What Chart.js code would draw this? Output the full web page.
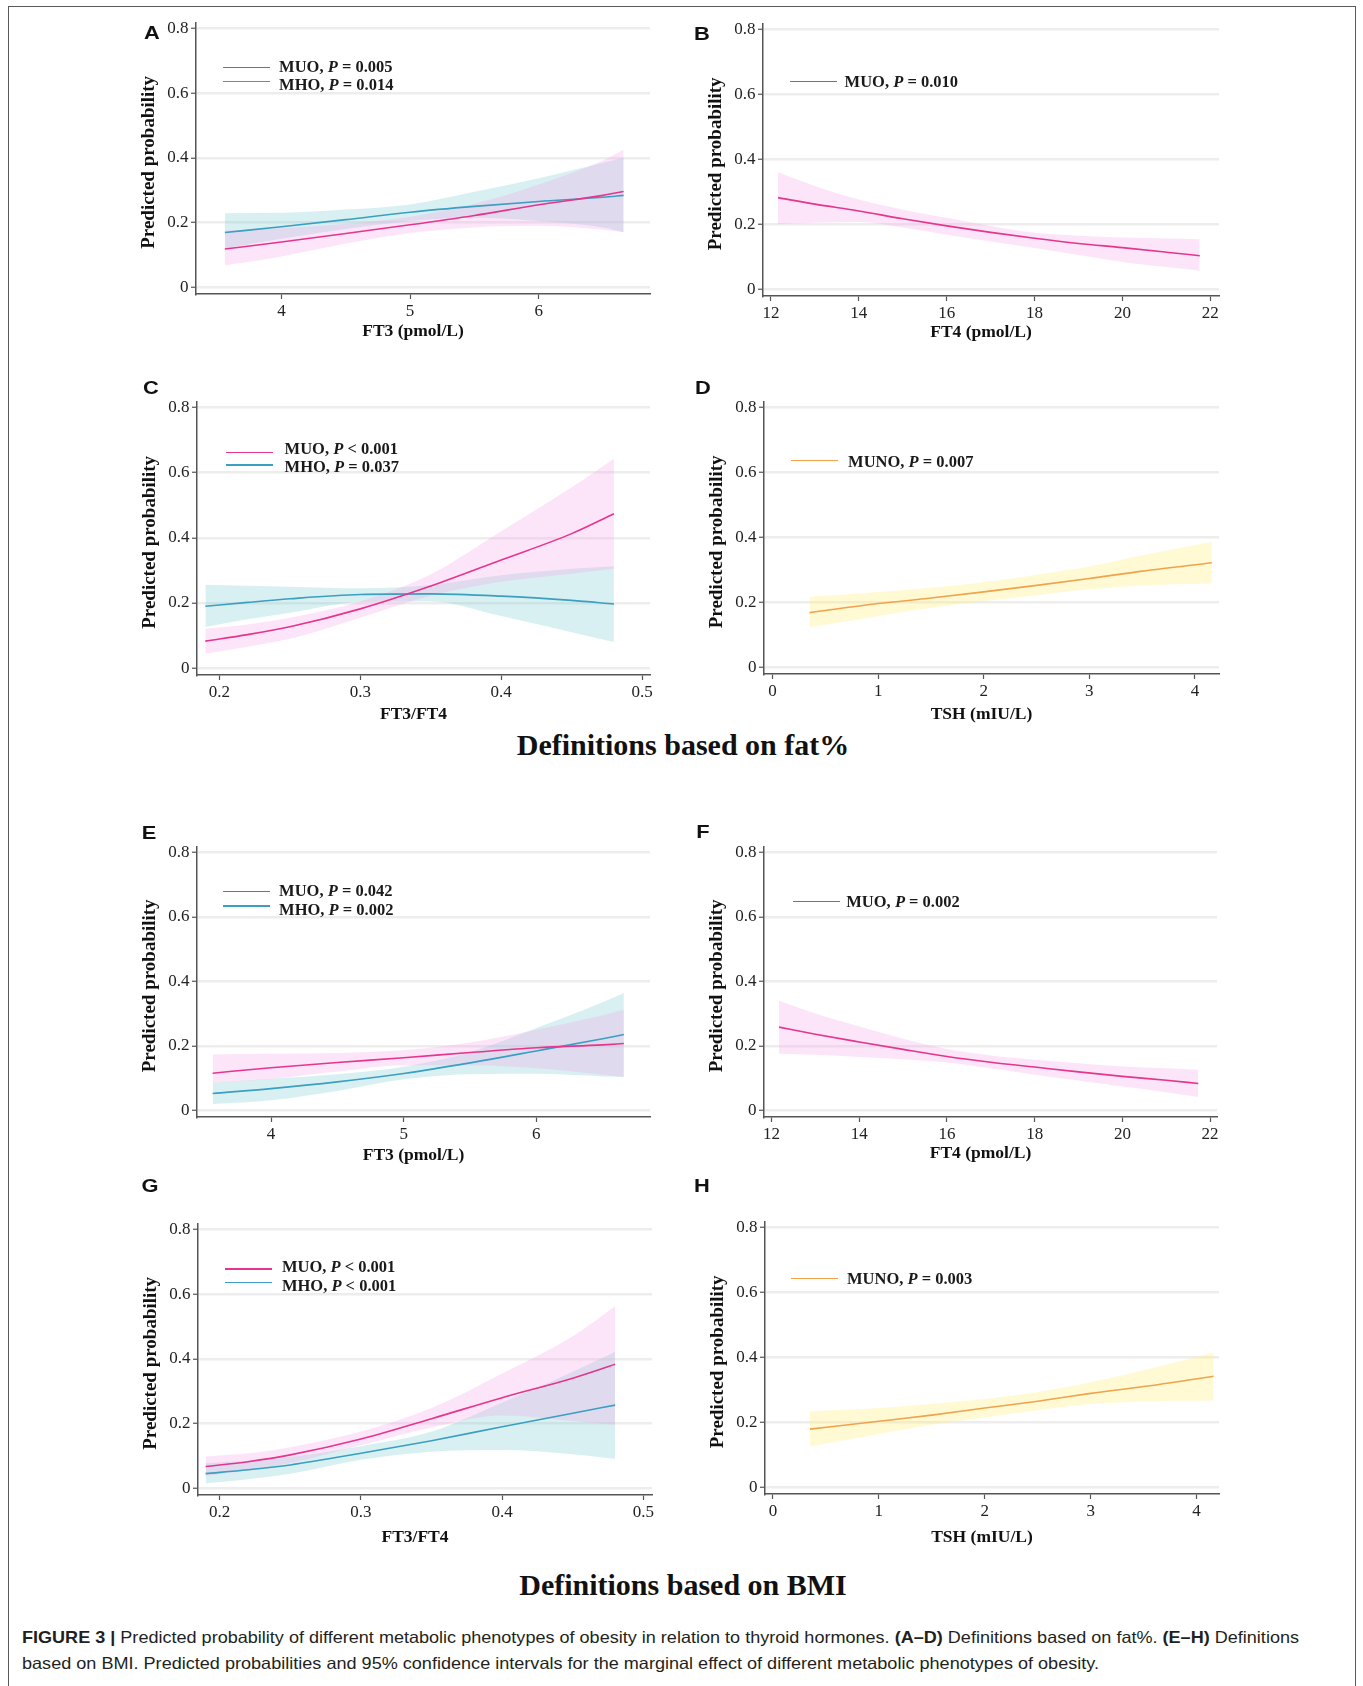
<!DOCTYPE html>
<html>
<head>
<meta charset="utf-8">
<script src="https://cdn.jsdelivr.net/npm/chart.js@4.4.1/dist/chart.umd.min.js"></script>
<style>
html,body{margin:0;padding:0;background:#fff;}
body{width:1363px;height:1686px;position:relative;overflow:hidden;font-family:'Liberation Serif','Times New Roman',serif;}
.frame{position:absolute;left:8px;top:6px;width:1348px;height:1720px;border:1.5px solid #5a5a5a;box-sizing:border-box;}
canvas{position:absolute;}
.lbl{position:absolute;font-family:'Liberation Sans',Arial,sans-serif;font-weight:bold;font-size:19px;line-height:1;transform:translate(-50%,-50%) scaleX(1.15);color:#111;z-index:5;}
.ll{position:absolute;height:1.6px;width:47px;z-index:5;}
.lt{position:absolute;font-family:'Liberation Serif','Times New Roman',serif;font-weight:bold;font-size:16.5px;line-height:1;transform:translateY(-50%);color:#1a1a1a;white-space:nowrap;z-index:5;}
.sect{position:absolute;left:0;width:1366px;text-align:center;font-family:'Liberation Serif','Times New Roman',serif;font-weight:bold;font-size:30px;line-height:1;transform:translateY(-50%);color:#111;}
.cap{position:absolute;left:21.5px;font-family:'Liberation Sans',Arial,sans-serif;font-size:16.5px;line-height:1;white-space:nowrap;transform-origin:0 50%;color:#231f20;}
</style>
</head>
<body>
<div class="frame"></div>

<div class="lbl" style="left:151.7px;top:31.7px">A</div>
<div class="lbl" style="left:702.4px;top:33.3px">B</div>
<div class="lbl" style="left:150.5px;top:387px">C</div>
<div class="lbl" style="left:703.2px;top:387px">D</div>
<div class="lbl" style="left:149.3px;top:831.7px">E</div>
<div class="lbl" style="left:703.4px;top:830.7px">F</div>
<div class="lbl" style="left:150.3px;top:1185px">G</div>
<div class="lbl" style="left:702.4px;top:1185px">H</div>

<!-- legends -->
<div class="ll" style="left:222.6px;top:66.5px;background:#e6358c"></div>
<div class="ll" style="left:222.6px;top:80.9px;background:#3b9fc2"></div>
<div class="lt" style="left:279.1px;top:67.3px">MUO, <i>P</i> = 0.005</div>
<div class="lt" style="left:279.1px;top:85px">MHO, <i>P</i> = 0.014</div>

<div class="ll" style="left:790.2px;top:80.9px;background:#e6358c"></div>
<div class="lt" style="left:844.6px;top:81.7px">MUO, <i>P</i> = 0.010</div>

<div class="ll" style="left:226.1px;top:451.9px;background:#e6358c"></div>
<div class="ll" style="left:226.1px;top:464.2px;background:#3b9fc2"></div>
<div class="lt" style="left:284.6px;top:449.3px">MUO, <i>P</i> &lt; 0.001</div>
<div class="lt" style="left:284.6px;top:467.3px">MHO, <i>P</i> = 0.037</div>

<div class="ll" style="left:790.9px;top:459.9px;background:#f2a24a"></div>
<div class="lt" style="left:848.1px;top:461.7px">MUNO, <i>P</i> = 0.007</div>

<div class="ll" style="left:223.3px;top:890.5px;background:#e6358c"></div>
<div class="ll" style="left:223.3px;top:905.2px;background:#3b9fc2"></div>
<div class="lt" style="left:279.1px;top:890.7px">MUO, <i>P</i> = 0.042</div>
<div class="lt" style="left:279.1px;top:910px">MHO, <i>P</i> = 0.002</div>

<div class="ll" style="left:793px;top:900.9px;background:#e6358c"></div>
<div class="lt" style="left:846.3px;top:901.7px">MUO, <i>P</i> = 0.002</div>

<div class="ll" style="left:225px;top:1268.2px;background:#e6358c"></div>
<div class="ll" style="left:225px;top:1281.9px;background:#3b9fc2"></div>
<div class="lt" style="left:281.9px;top:1266.7px">MUO, <i>P</i> &lt; 0.001</div>
<div class="lt" style="left:281.9px;top:1286px">MHO, <i>P</i> &lt; 0.001</div>

<div class="ll" style="left:790.9px;top:1277.5px;background:#f2a24a"></div>
<div class="lt" style="left:847px;top:1279px">MUNO, <i>P</i> = 0.003</div>

<div class="sect" style="top:745px">Definitions based on fat%</div>
<div class="sect" style="top:1585px">Definitions based on BMI</div>

<div class="cap" id="cap1" style="top:1637px"><b>FIGURE 3 |</b> Predicted probability of different metabolic phenotypes of obesity in relation to thyroid hormones. <b>(A–D)</b> Definitions based on fat%. <b>(E–H)</b> Definitions</div>
<div class="cap" id="cap2" style="top:1663px">based on BMI. Predicted probabilities and 95% confidence intervals for the marginal effect of different metabolic phenotypes of obesity.</div>

<script>
// ---------------- DATA ----------------
const yTickValues = [0, 0.2, 0.4, 0.6, 0.8];
const yTickLabels = ['0', '0.2', '0.4', '0.6', '0.8'];
const ft3TickValues = [4, 5, 6];
const ft3TickLabels = ['4', '5', '6'];
const ft4TickValues = [12, 14, 16, 18, 20, 22];
const ft4TickLabels = ['12', '14', '16', '18', '20', '22'];
const ratioTickValues = [0.2, 0.3, 0.4, 0.5];
const ratioTickLabels = ['0.2', '0.3', '0.4', '0.5'];
const tshTickValues = [0, 1, 2, 3, 4];
const tshTickLabels = ['0', '1', '2', '3', '4'];

// Panel A : FT3, fat%
const xA = [3.56, 4.0, 4.5, 5.0, 5.5, 6.0, 6.5, 6.66];
const muoA = [0.118, 0.140, 0.166, 0.193, 0.222, 0.255, 0.284, 0.296];
const muoA_lo = [0.067, 0.095, 0.135, 0.168, 0.185, 0.190, 0.178, 0.170];
const muoA_hi = [0.175, 0.182, 0.196, 0.218, 0.258, 0.318, 0.392, 0.425];
const mhoA = [0.169, 0.187, 0.209, 0.232, 0.250, 0.265, 0.278, 0.284];
const mhoA_lo = [0.120, 0.150, 0.180, 0.205, 0.215, 0.205, 0.185, 0.170];
const mhoA_hi = [0.229, 0.230, 0.240, 0.256, 0.295, 0.337, 0.385, 0.400];

// Panel B : FT4, fat%
const xB = [12.16, 13, 14, 15, 16, 17, 18, 19, 20, 21, 21.76];
const muoB = [0.282, 0.262, 0.241, 0.217, 0.195, 0.175, 0.157, 0.141, 0.128, 0.114, 0.103];
const muoB_lo = [0.200, 0.205, 0.207, 0.190, 0.168, 0.147, 0.127, 0.105, 0.084, 0.068, 0.057];
const muoB_hi = [0.360, 0.318, 0.276, 0.245, 0.220, 0.195, 0.174, 0.165, 0.159, 0.156, 0.154];

// Panel C : FT3/FT4, fat%
const xC = [0.19, 0.22, 0.25, 0.30, 0.35, 0.40, 0.45, 0.48];
const muoC = [0.083, 0.103, 0.127, 0.182, 0.252, 0.332, 0.413, 0.474];
const muoC_lo = [0.044, 0.066, 0.090, 0.155, 0.222, 0.265, 0.290, 0.305];
const muoC_hi = [0.121, 0.134, 0.155, 0.205, 0.288, 0.420, 0.555, 0.643];
const mhoC = [0.190, 0.202, 0.213, 0.226, 0.228, 0.221, 0.208, 0.197];
const mhoC_lo = [0.126, 0.150, 0.170, 0.203, 0.205, 0.160, 0.110, 0.080];
const mhoC_hi = [0.256, 0.253, 0.250, 0.245, 0.255, 0.285, 0.305, 0.313];

// Panel D : TSH, fat%
const xD = [0.35, 1, 1.5, 2, 2.5, 3, 3.5, 4.16];
const munoD = [0.168, 0.196, 0.213, 0.232, 0.252, 0.273, 0.296, 0.322];
const munoD_lo = [0.123, 0.158, 0.183, 0.203, 0.222, 0.240, 0.252, 0.258];
const munoD_hi = [0.217, 0.232, 0.245, 0.262, 0.285, 0.310, 0.345, 0.386];

// Panel E : FT3, BMI
const xE = [3.56, 4.0, 4.5, 5.0, 5.5, 6.0, 6.5, 6.66];
const muoE = [0.115, 0.132, 0.148, 0.163, 0.179, 0.194, 0.203, 0.207];
const muoE_lo = [0.085, 0.097, 0.120, 0.140, 0.140, 0.130, 0.110, 0.103];
const muoE_hi = [0.173, 0.175, 0.178, 0.186, 0.210, 0.250, 0.295, 0.312];
const mhoE = [0.052, 0.067, 0.088, 0.114, 0.147, 0.184, 0.222, 0.235];
const mhoE_lo = [0.019, 0.031, 0.060, 0.096, 0.112, 0.113, 0.105, 0.103];
const mhoE_hi = [0.085, 0.098, 0.112, 0.135, 0.180, 0.255, 0.335, 0.364];

// Panel F : FT4, BMI
const xF = [12.17, 13, 14, 15, 16, 17, 18, 19, 20, 21, 21.73];
const muoF = [0.258, 0.236, 0.212, 0.189, 0.167, 0.149, 0.134, 0.119, 0.105, 0.093, 0.083];
const muoF_lo = [0.175, 0.172, 0.165, 0.158, 0.148, 0.130, 0.110, 0.092, 0.074, 0.056, 0.041];
const muoF_hi = [0.340, 0.300, 0.260, 0.222, 0.190, 0.170, 0.157, 0.146, 0.136, 0.130, 0.126];

// Panel G : FT3/FT4, BMI
const xG = [0.19, 0.22, 0.25, 0.30, 0.35, 0.40, 0.45, 0.48];
const muoG = [0.067, 0.082, 0.103, 0.152, 0.215, 0.280, 0.340, 0.383];
const muoG_lo = [0.038, 0.055, 0.078, 0.133, 0.188, 0.225, 0.208, 0.196];
const muoG_hi = [0.098, 0.108, 0.127, 0.175, 0.248, 0.355, 0.470, 0.563];
const mhoG = [0.045, 0.057, 0.072, 0.108, 0.147, 0.190, 0.232, 0.257];
const mhoG_lo = [0.015, 0.028, 0.045, 0.088, 0.113, 0.118, 0.105, 0.090];
const mhoG_hi = [0.077, 0.085, 0.097, 0.130, 0.175, 0.265, 0.360, 0.422];

// Panel H : TSH, BMI
const xH = [0.35, 1, 1.5, 2, 2.5, 3, 3.5, 4.16];
const munoH = [0.179, 0.203, 0.222, 0.244, 0.265, 0.289, 0.310, 0.342];
const munoH_lo = [0.125, 0.164, 0.192, 0.215, 0.237, 0.256, 0.264, 0.267];
const munoH_hi = [0.234, 0.244, 0.257, 0.272, 0.293, 0.323, 0.360, 0.415];

// ---------------- STYLES ----------------
const PINK = '#e6358c', PINK_BAND = 'rgba(245,160,235,0.28)';
const CYAN = '#3b9fc2', CYAN_BAND = 'rgba(120,200,210,0.28)';
const ORANGE = '#f2a24a', ORANGE_BAND = 'rgba(255,240,120,0.32)';

Chart.defaults.font.family = "'Liberation Serif','Times New Roman',serif";

function pts(xs, ys) { return xs.map((x, i) => ({x: x, y: ys[i]})); }

function bandAndLine(xs, mid, lo, hi, color, band, bandOrder) {
  return {
    line: {data: pts(xs, mid), borderColor: color, borderWidth: 1.6, fill: false, order: 0,
           pointRadius: 0, cubicInterpolationMode: 'monotone'},
    lo: {data: pts(xs, lo), borderColor: 'rgba(0,0,0,0)', borderWidth: 0, fill: false, order: bandOrder,
         pointRadius: 0, cubicInterpolationMode: 'monotone'},
    hi: {data: pts(xs, hi), borderColor: 'rgba(0,0,0,0)', borderWidth: 0, fill: '-1', backgroundColor: band,
         order: bandOrder, pointRadius: 0, cubicInterpolationMode: 'monotone'}
  };
}

function datasetsFor(list) {
  const out = [];
  list.forEach(s => out.push(s.line));
  list.forEach(s => { out.push(s.lo); out.push(s.hi); });
  return out;
}

const panels = [
  {L:196, T:22, R:650, B:294, xmin:3.3355, xmax:6.865, xv:ft3TickValues, xl:ft3TickLabels, xtitle:'FT3 (pmol/L)', xoff:37.5,
   ds: datasetsFor([bandAndLine(xA, muoA, muoA_lo, muoA_hi, PINK, PINK_BAND, 1), bandAndLine(xA, mhoA, mhoA_lo, mhoA_hi, CYAN, CYAN_BAND, 2)])},
  {L:763, T:23, R:1219, B:296, xmin:11.818, xmax:22.198, xv:ft4TickValues, xl:ft4TickLabels, xtitle:'FT4 (pmol/L)', xoff:36.6,
   ds: datasetsFor([bandAndLine(xB, muoB, muoB_lo, muoB_hi, PINK, PINK_BAND, 1)])},
  {L:197, T:401, R:650, B:675, xmin:0.1841, xmax:0.5056, xv:ratioTickValues, xl:ratioTickLabels, xtitle:'FT3/FT4', xoff:39.5,
   ds: datasetsFor([bandAndLine(xC, muoC, muoC_lo, muoC_hi, PINK, PINK_BAND, 1), bandAndLine(xC, mhoC, mhoC_lo, mhoC_hi, CYAN, CYAN_BAND, 2)])},
  {L:764, T:401, R:1219, B:674, xmin:-0.0814, xmax:4.228, xv:tshTickValues, xl:tshTickLabels, xtitle:'TSH (mIU/L)', xoff:40.9,
   ds: datasetsFor([bandAndLine(xD, munoD, munoD_lo, munoD_hi, ORANGE, ORANGE_BAND, 1)])},
  {L:197, T:846, R:650, B:1117, xmin:3.442, xmax:6.857, xv:ft3TickValues, xl:ft3TickLabels, xtitle:'FT3 (pmol/L)', xoff:38.8,
   ds: datasetsFor([bandAndLine(xE, muoE, muoE_lo, muoE_hi, PINK, PINK_BAND, 1), bandAndLine(xE, mhoE, mhoE_lo, mhoE_hi, CYAN, CYAN_BAND, 2)])},
  {L:764, T:846, R:1217, B:1117, xmin:11.827, xmax:22.157, xv:ft4TickValues, xl:ft4TickLabels, xtitle:'FT4 (pmol/L)', xoff:36.5,
   ds: datasetsFor([bandAndLine(xF, muoF, muoF_lo, muoF_hi, PINK, PINK_BAND, 1)])},
  {L:198, T:1223, R:652, B:1495, xmin:0.1846, xmax:0.5061, xv:ratioTickValues, xl:ratioTickLabels, xtitle:'FT3/FT4', xoff:42.9,
   ds: datasetsFor([bandAndLine(xG, muoG, muoG_lo, muoG_hi, PINK, PINK_BAND, 1), bandAndLine(xG, mhoG, mhoG_lo, mhoG_hi, CYAN, CYAN_BAND, 2)])},
  {L:765, T:1221, R:1219, B:1494, xmin:-0.0746, xmax:4.2115, xv:tshTickValues, xl:tshTickLabels, xtitle:'TSH (mIU/L)', xoff:43.2,
   ds: datasetsFor([bandAndLine(xH, munoH, munoH_lo, munoH_hi, ORANGE, ORANGE_BAND, 1)])}
];

const YW = 60, XH = 60, PT = 12, PR = 15;

function shiftTitle(scale, dx, dy) {
  if (scale._shifted) return;
  const orig = scale.drawTitle.bind(scale);
  scale.drawTitle = function () {
    const ctx = this.ctx; ctx.save(); ctx.translate(dx, dy); orig(); ctx.restore();
  };
  scale._shifted = true;
}

panels.forEach(p => {
  const cv = document.createElement('canvas');
  const w = p.R - p.L + YW + PR, h = p.B - p.T + PT + XH;
  cv.width = w; cv.height = h;
  cv.style.left = (p.L - YW) + 'px'; cv.style.top = (p.T - PT) + 'px';
  cv.style.width = w + 'px'; cv.style.height = h + 'px';
  document.body.appendChild(cv);
  new Chart(cv.getContext('2d'), {
    type: 'line',
    data: {datasets: p.ds},
    options: {
      responsive: false, animation: false, devicePixelRatio: 1,
      layout: {padding: {left: 0, top: PT, right: PR, bottom: 0}},
      plugins: {legend: {display: false}, tooltip: {enabled: false}, filler: {propagate: false}},
      elements: {point: {radius: 0}},
      scales: {
        x: {
          type: 'linear', min: p.xmin, max: p.xmax,
          afterBuildTicks: s => { s.ticks = p.xv.map(v => ({value: v})); },
          afterFit: s => { s.height = XH; },
          afterUpdate: s => shiftTitle(s, -10, 0),
          ticks: {autoSkip: false, maxRotation: 0, padding: 2, color: '#222', font: {size: 17},
                  callback: v => p.xl[p.xv.indexOf(v)]},
          grid: {drawOnChartArea: false, drawTicks: true, tickLength: 5, tickColor: '#555', tickWidth: 1.2},
          border: {display: true, color: '#555', width: 1.5},
          title: {display: true, text: p.xtitle, color: '#111', font: {size: 17.5, weight: 'bold'},
                  padding: {top: 0, bottom: XH - 10.5 - p.xoff}}
        },
        y: {
          type: 'linear', min: -0.021, max: 0.818,
          afterBuildTicks: s => { s.ticks = yTickValues.map(v => ({value: v})); },
          afterFit: s => { s.width = YW; },
          afterUpdate: s => shiftTitle(s, 0, 4),
          ticks: {autoSkip: false, padding: 2.5, color: '#222', font: {size: 17},
                  callback: v => yTickLabels[yTickValues.indexOf(v)]},
          grid: {color: '#ededed', lineWidth: 2.5, drawTicks: true, tickLength: 5, tickColor: '#555', tickWidth: 1.2},
          border: {display: true, color: '#555', width: 1.5},
          title: {display: true, text: 'Predicted probability', color: '#111', font: {size: 19, weight: 'bold'},
                  padding: {top: 2, bottom: 0}}
        }
      }
    }
  });
});

function fitCap(id, target) {
  const el = document.getElementById(id);
  const w = el.getBoundingClientRect().width;
  el.style.transform = 'translateY(-50%) scaleX(' + (target / w) + ')';
}
fitCap('cap1', 1277);
fitCap('cap2', 1077);
</script>
</body>
</html>
